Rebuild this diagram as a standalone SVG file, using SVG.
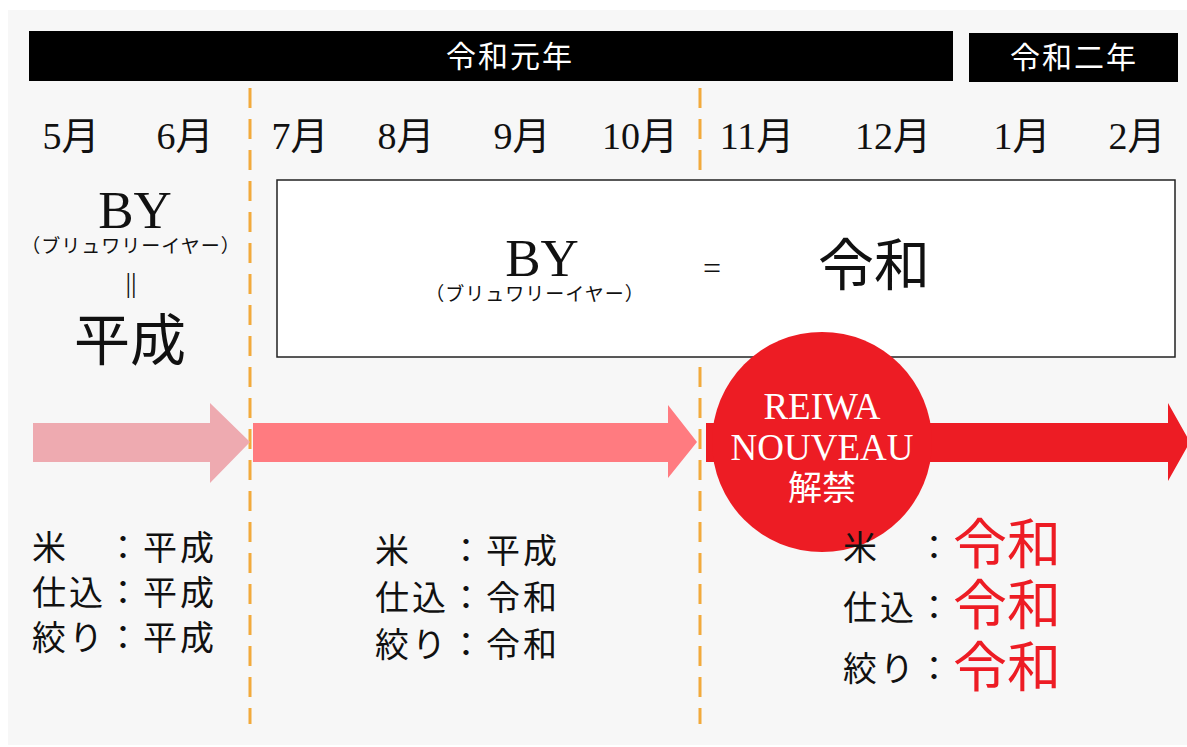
<svg xmlns="http://www.w3.org/2000/svg" width="1187" height="747" viewBox="0 0 1187 747">
<style>
.t{font-family:"Liberation Serif","Noto Sans CJK JP",serif;fill:#111}
.m{font-size:38px;text-anchor:middle}
.yr{font-size:30px;letter-spacing:2px;text-anchor:middle;fill:#fff}
.lbl{font-size:34px;letter-spacing:3px}
.red{fill:#ed1c24;font-size:54px}
.dash{stroke:#f2aa3c;stroke-width:3;stroke-dasharray:20 11;fill:none}
</style>
<rect x="0" y="0" width="1187" height="747" fill="#fff"/>
<rect x="8" y="10" width="1179" height="735" fill="#f7f7f7"/>
<g id="year1"><rect x="29" y="31" width="924" height="50" fill="#000"/><text class="t yr" x="510" y="67">令和元年</text></g>
<g id="year2"><rect x="969" y="33" width="209" height="49" fill="#000"/><text class="t yr" x="1074" y="68">令和二年</text></g>
<g id="months">
<text class="t m" x="71" y="149">5月</text>
<text class="t m" x="185" y="149">6月</text>
<text class="t m" x="300" y="149">7月</text>
<text class="t m" x="406" y="149">8月</text>
<text class="t m" x="522" y="149">9月</text>
<text class="t m" x="640" y="149">10月</text>
<text class="t m" x="757" y="149">11月</text>
<text class="t m" x="893" y="149">12月</text>
<text class="t m" x="1022" y="149">1月</text>
<text class="t m" x="1137" y="149">2月</text>
</g>
<g id="dividers">
<line class="dash" x1="250" y1="88" x2="250" y2="724"/>
<line class="dash" x1="700" y1="88" x2="700" y2="724"/>
</g>
<g id="left-era">
<text class="t" x="135" y="228" font-size="53" text-anchor="middle">BY</text>
<text class="t" x="131" y="253" font-size="19" letter-spacing="1" text-anchor="middle">（ブリュワリーイヤー）</text>
<text class="t" x="131" y="292" font-size="28" text-anchor="middle">||</text>
<text class="t" x="130" y="360" font-size="56" text-anchor="middle">平成</text>
</g>
<g id="by-box">
<rect x="277" y="180" width="898" height="177" fill="#fff" stroke="#222" stroke-width="1.5"/>
<text class="t" x="542" y="276" font-size="53" text-anchor="middle">BY</text>
<text class="t" x="535" y="301" font-size="19" letter-spacing="1" text-anchor="middle">（ブリュワリーイヤー）</text>
<text class="t" x="712" y="279" font-size="32" text-anchor="middle">=</text>
<text class="t" x="874" y="285" font-size="56" text-anchor="middle">令和</text>
</g>
<g id="connectors">
<polygon points="33,423 210,423 210,403 250,442 210,483 210,462 33,462" fill="#eeaab0"/>
<polygon points="253,423 668,423 668,405 697,442 668,478 668,462 253,462" fill="#ff7b80"/>
<polygon points="706,423 1168,423 1168,403 1190,442 1168,481 1168,462 706,462" fill="#ed1c24"/>
</g>
<g id="nouveau">
<circle cx="822" cy="442" r="110" fill="#ed1c24"/>
<text class="t" x="822" y="419" font-size="37" text-anchor="middle" style="fill:#fff">REIWA</text>
<text class="t" x="822" y="460" font-size="37" text-anchor="middle" style="fill:#fff">NOUVEAU</text>
<text class="t" x="822" y="500" font-size="34" text-anchor="middle" style="fill:#fff">解禁</text>
</g>
<g id="status-heisei">
<text class="t lbl" x="32" y="560">米　：平成</text>
<text class="t lbl" x="32" y="605">仕込：平成</text>
<text class="t lbl" x="32" y="650">絞り：平成</text>
</g>
<g id="status-mixed">
<text class="t lbl" x="375" y="563">米　：平成</text>
<text class="t lbl" x="375" y="610">仕込：令和</text>
<text class="t lbl" x="375" y="657">絞り：令和</text>
</g>
<g id="status-reiwa">
<text class="t lbl" x="843" y="560">米　：</text>
<text class="t red" x="953" y="564">令和</text>
<text class="t lbl" x="843" y="620">仕込：</text>
<text class="t red" x="953" y="625">令和</text>
<text class="t lbl" x="843" y="681">絞り：</text>
<text class="t red" x="953" y="687">令和</text>
</g>
</svg>
